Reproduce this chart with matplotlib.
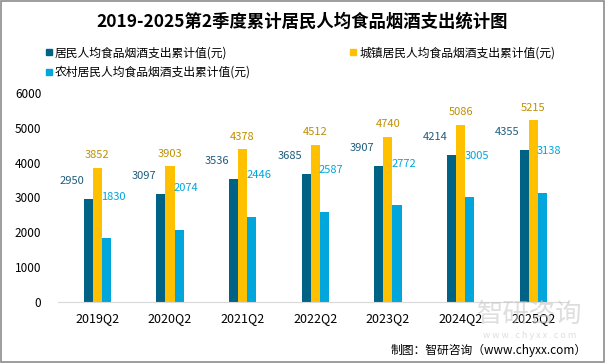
import numpy as np
import matplotlib.pyplot as plt
from matplotlib.patches import Rectangle
from matplotlib.lines import Line2D

plt.rcParams['font.family'] = ['Noto Sans CJK SC', 'DejaVu Sans']

categories = ['2019Q2', '2020Q2', '2021Q2', '2022Q2', '2023Q2', '2024Q2', '2025Q2']
total = [2950, 3097, 3536, 3685, 3907, 4214, 4355]
urban = [3852, 3903, 4378, 4512, 4740, 5086, 5215]
rural = [1830, 2074, 2446, 2587, 2772, 3005, 3138]
series_names = ['居民人均食品烟酒支出累计值(元)', '城镇居民人均食品烟酒支出累计值(元)',
                '农村居民人均食品烟酒支出累计值(元)']

c_dark, c_yellow, c_blue = '#006386', '#FFC000', '#00A6DC'
lab_dark, lab_yellow, lab_blue = '#1E5D7C', '#BF8F00', '#00A6DC'

fig = plt.figure(figsize=(6.05, 3.63), dpi=100)
ax = fig.add_axes([0.096, 0.168, 0.843, 0.576])

x = np.arange(len(categories))
w = 0.125
ax.bar(x - w, total, w, color=c_dark)
ax.bar(x, urban, w, color=c_yellow)
ax.bar(x + w, rural, w, color=c_blue)

for xi, v in zip(x, total):
    ax.annotate(str(v), (xi - w, v), xytext=(-12, 13), textcoords='offset points',
                ha='center', va='center', fontsize=8, color=lab_dark)
for xi, v in zip(x, urban):
    ax.annotate(str(v), (xi, v), xytext=(0, 9), textcoords='offset points',
                ha='center', va='center', fontsize=8, color=lab_yellow)
for xi, v in zip(x, rural):
    ax.annotate(str(v), (xi + w, v), xytext=(5, 30), textcoords='offset points',
                ha='center', va='center', fontsize=8, color=lab_blue)

ax.set_xlim(-0.54, 6.48)
ax.set_ylim(0, 6000)
ax.set_yticks(range(0, 6001, 1000))
ax.set_xticks(x)
ax.set_xticklabels(categories, fontsize=9)
ax.tick_params(axis='y', length=0, labelsize=8.5, pad=12)
ax.tick_params(axis='x', length=0, labelsize=9, pad=7)
for s in ['left', 'right', 'top']:
    ax.spines[s].set_visible(False)
ax.spines['bottom'].set_color('#D9D9D9')

fig.text(0.5, 0.94, '2019-2025第2季度累计居民人均食品烟酒支出统计图', ha='center', va='center',
         fontsize=12.5, fontweight='bold')

handles = [Line2D([], [], marker='s', linestyle='none', markersize=4, color=c) for c in
           (c_dark, c_blue, c_yellow)]
labels = [series_names[0], series_names[2], series_names[1]]
fig.legend(handles, labels, ncol=2, loc='upper left', bbox_to_anchor=(0.065, 0.885),
           frameon=False, fontsize=8.5, handletextpad=0.1, columnspacing=8.3,
           labelspacing=0.55, handlelength=0.8, borderaxespad=0)

# watermark
fig.text(0.875, 0.135, '智研咨询', ha='center', va='center', fontsize=19, color='#C8C8C8',
         alpha=0.6, zorder=0)
fig.text(0.875, 0.075, 'w w w . c h y x x . c o m', ha='center', va='center', fontsize=6.5,
         color='#C8C8C8', alpha=0.6, zorder=0)
fig.text(0.97, 0.035, '制图：智研咨询（www.chyxx.com）', ha='right', va='center', fontsize=8.5)

fig.patches.append(Rectangle((0.001, 0.002), 0.997, 0.995, transform=fig.transFigure,
                             fill=False, edgecolor='#8C8C8C', linewidth=1.2))

fig.savefig('out.png', dpi=100)
